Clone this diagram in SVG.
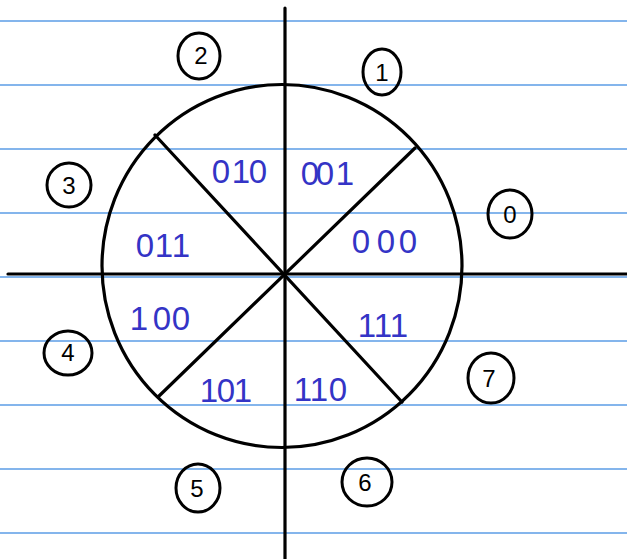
<svg xmlns="http://www.w3.org/2000/svg" width="627" height="559" viewBox="0 0 627 559">
<style>
.rule{stroke:#5b9ce6;stroke-width:1.5}
.ink{stroke:#000;stroke-width:3.2;fill:none;stroke-linecap:round}
.code{font-family:"Liberation Sans",Arial,sans-serif;font-size:33px;fill:#3434c6;text-anchor:middle}
.num{font-family:"Liberation Sans",Arial,sans-serif;font-size:24px;fill:#000;text-anchor:middle}
.ring{stroke:#000;stroke-width:3;fill:none}
</style>
<rect width="627" height="559" fill="#fff"/>
<g id="ruled-lines">
<line class="rule" x1="0" y1="21" x2="627" y2="21"/>
<line class="rule" x1="0" y1="85" x2="627" y2="85"/>
<line class="rule" x1="0" y1="149" x2="627" y2="149"/>
<line class="rule" x1="0" y1="213" x2="627" y2="213"/>
<line class="rule" x1="0" y1="277" x2="627" y2="277"/>
<line class="rule" x1="0" y1="341" x2="627" y2="341"/>
<line class="rule" x1="0" y1="405" x2="627" y2="405"/>
<line class="rule" x1="0" y1="469" x2="627" y2="469"/>
<line class="rule" x1="0" y1="533" x2="627" y2="533"/>
</g>
<g id="connectors">
<ellipse class="ink" cx="282" cy="266" rx="180" ry="181.5"/>
<line class="ink" x1="285" y1="8" x2="285" y2="559"/>
<line class="ink" x1="8" y1="274" x2="627" y2="274"/>
<line class="ink" x1="155" y1="135" x2="402" y2="402"/>
<line class="ink" x1="415" y1="148" x2="158" y2="397"/>
</g>
<g id="codes">
<text class="code" x="221 241 258" y="183">010</text>
<text class="code" x="310 325 345" y="185">001</text>
<text class="code" x="145 164 181" y="257">011</text>
<text class="code" x="361 386 408" y="253">000</text>
<text class="code" x="139 162 181" y="330">100</text>
<text class="code" x="367 383 399" y="337">111</text>
<text class="code" x="209 226 243" y="402">101</text>
<text class="code" x="303 319 338" y="401">110</text>
</g>
<g id="label-0"><ellipse class="ring" cx="510" cy="214" rx="22" ry="24"/><text class="num" x="510" y="223">0</text></g>
<g id="label-1"><ellipse class="ring" cx="382" cy="72" rx="19" ry="23"/><text class="num" x="382" y="81">1</text></g>
<g id="label-2"><ellipse class="ring" cx="199" cy="56" rx="21" ry="23"/><text class="num" x="201" y="64">2</text></g>
<g id="label-3"><ellipse class="ring" cx="69" cy="185" rx="22" ry="22"/><text class="num" x="69" y="194">3</text></g>
<g id="label-4"><ellipse class="ring" cx="68" cy="353" rx="24" ry="22"/><text class="num" x="68" y="361">4</text></g>
<g id="label-5"><ellipse class="ring" cx="198" cy="488" rx="22" ry="24"/><text class="num" x="197" y="497">5</text></g>
<g id="label-6"><ellipse class="ring" cx="367" cy="482" rx="25" ry="24"/><text class="num" x="365" y="491">6</text></g>
<g id="label-7"><ellipse class="ring" cx="491" cy="378" rx="23" ry="25"/><text class="num" x="489" y="387">7</text></g>
</svg>
